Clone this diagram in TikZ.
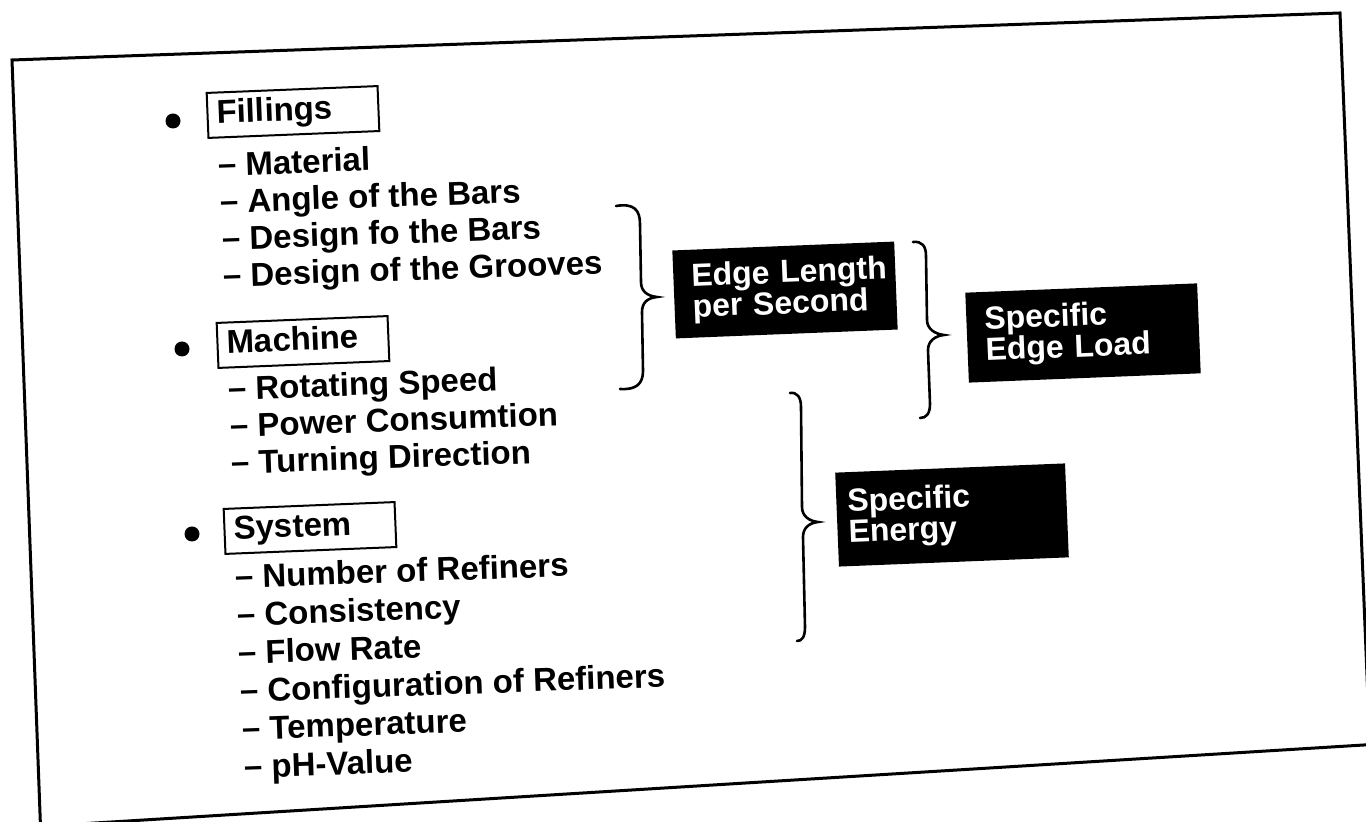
\documentclass[tikz,border=0pt]{standalone}
\usepackage{fontspec}
\setmainfont{Liberation Sans}
\newcommand\listfs{\fontsize{16.5}{20}\selectfont\bfseries}
\newcommand\boxfs{\fontsize{16}{15.5}\selectfont\bfseries}
\tikzset{
  item/.style={anchor=base west, inner sep=0pt, rotate=2, font=\listfs},
  hdr/.style={draw, line width=1pt, rotate=2.3, text width=76pt, inner xsep=4.75pt, inner ysep=3.25pt,
    align=left, minimum height=22.5pt, text height=12pt, text depth=3.5pt, font=\listfs},
  dark/.style={fill=black, text=white, rotate=2.3, align=left, font=\boxfs, inner ysep=2pt},
  bullet/.style={circle, fill=black, inner sep=0pt, minimum size=7.5pt},
  frameline/.style={line width=1.5pt},
  brc/.style={line width=1.3pt, line cap=round}
}
\begin{document}
\begin{tikzpicture}[x=0.5pt,y=-0.5pt]
\useasboundingbox (0,0) rectangle (1366,822);
\fill[white] (0,0) rectangle (1366,822);
\clip (0,0) rectangle (1366,822);

% frame
\coordinate (ftl) at (12,60);
\coordinate (ftr) at (1340,13);
\coordinate (fbl) at (41,840);
\coordinate (frb) at (1368,700);
\coordinate (fb1) at (30,827);
\coordinate (fb2) at (1380,744);
\draw[frameline] (frb) -- (ftr) -- (ftl) -- (fbl);
\draw[frameline] (fb1) -- (fb2);

% Fillings
\node[bullet] (b1) at (173,121) {};
\node[hdr] (fil) at (293,112) {Fillings};
\node[item] (f1) at (218,176) {– Material};
\node[item] (f2) at (220,213) {– Angle of the Bars};
\node[item] (f3) at (222,250) {– Design fo the Bars};
\node[item] (f4) at (223,287) {– Design of the Grooves};

% Machine
\node[bullet] (b2) at (182,349) {};
\node[hdr] (mac) at (303,342) {Machine};
\node[item] (m1) at (228,400) {– Rotating Speed};
\node[item] (m2) at (230,437) {– Power Consumtion};
\node[item] (m3) at (231,474) {– Turning Direction};

% System
\node[bullet] (b3) at (192,534) {};
\node[hdr] (sys) at (310,528) {System};
\node[item] (s1) at (235,588) {– Number of Refiners};
\node[item] (s2) at (237,626) {– Consistency};
\node[item] (s3) at (238,664) {– Flow Rate};
\node[item] (s4) at (240,702) {– Configuration of Refiners};
\node[item] (s5) at (242,740) {– Temperature};
\node[item] (s6) at (244,778) {– pH-Value};

% dark boxes
\node[dark, minimum width=111pt, minimum height=44pt, inner xsep=9pt, text width=93pt] (el) at (785,290)
  {Edge~Length\\per~Second};
\node[dark, minimum width=116pt, minimum height=45pt, inner xsep=9pt, text width=98pt] (sel) at (1083,333)
  {Specific\\Edge~Load};
\node[dark, minimum width=115pt, minimum height=47pt, inner xsep=5.5pt, text width=104pt] (se) at (952,515)
  {Specific\\Energy};

% braces
\coordinate (br1) at (657,297);
\coordinate (br2) at (944,335);
\coordinate (br3) at (818,522);
\draw[brc] (616,206) .. controls (634,203) and (640,210) .. (640,224) -- (641,282)
  .. controls (641,291) and (647,296) .. (br1)
  .. controls (647,298) and (642,303) .. (642,312) -- (643,371)
  .. controls (643,384) and (636,390) .. (620,389);
\draw[brc] (913,242) .. controls (922,241) and (926,246) .. (926,256) -- (927,320)
  .. controls (927,329) and (935,334) .. (br2)
  .. controls (935,336) and (928,341) .. (928,350) -- (930,404)
  .. controls (930,414) and (926,418) .. (920,418);
\draw[brc] (790,393) .. controls (797,392) and (801,397) .. (801,407) -- (802,507)
  .. controls (802,516) and (809,521) .. (br3)
  .. controls (809,523) and (803,528) .. (803,537) -- (805,627)
  .. controls (805,637) and (802,641) .. (797,641);
\end{tikzpicture}
\end{document}
